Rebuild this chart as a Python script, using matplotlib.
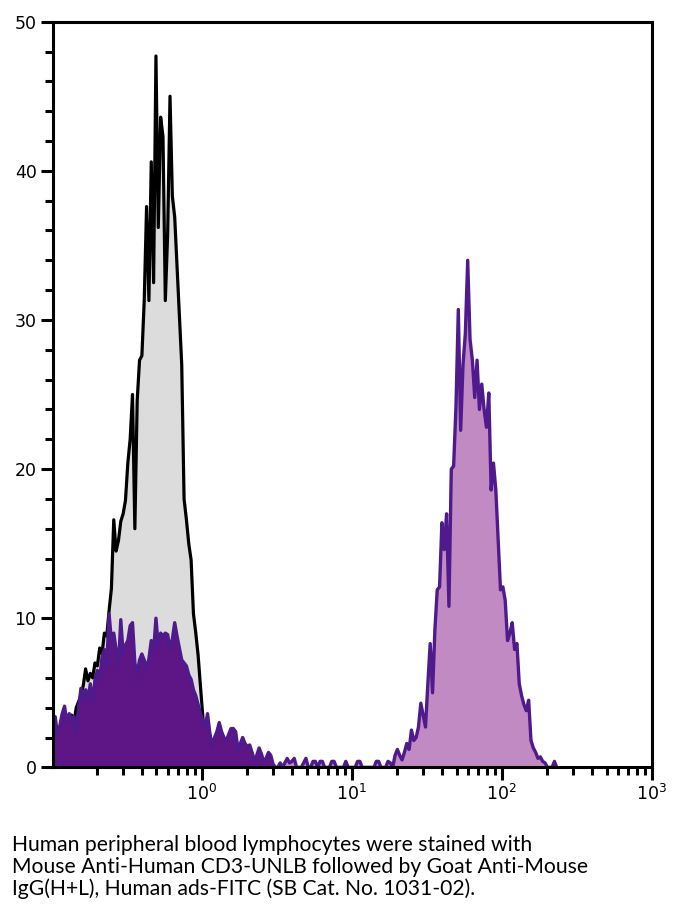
import matplotlib
matplotlib.use('Agg')
import matplotlib.pyplot as plt
import numpy as np
from matplotlib.ticker import LogLocator, MultipleLocator

# channel counts, 64 channels per decade starting at 10^-1
CHANNELS_PER_DECADE = 64

# unstained / control histogram (grey), channels 0..67
control_counts = [
    1.5, 2.0, 1.8, 2.5, 2.2, 3.0, 2.6, 3.2, 3.5, 3.0,
    4.0, 4.4, 4.8, 5.5, 6.6, 5.8, 6.3, 6.0, 7.0, 6.8,
    8.0, 7.6, 9.0, 8.8, 10.5, 12.0, 16.6, 14.5, 15.2, 16.5,
    17.0, 17.9, 20.4, 22.0, 25.0, 16.0, 24.6, 27.3, 27.6, 31.3,
    37.6, 31.3, 40.6, 32.5, 47.7, 36.2, 43.6, 42.3, 31.3, 35.8,
    45.0, 38.3, 36.9, 33.6, 30.3, 27.0, 18.0, 16.6, 15.0, 13.9,
    10.3, 9.0, 7.5, 5.4, 3.4, 1.6, 0.5, 0.0,
]

# CD3 stained histogram (purple), channels 0..215
cd3_counts = [
    3.0, 3.4, 2.2, 2.8, 3.6, 4.1, 3.0, 3.6, 3.2, 3.4,
    2.3, 4.0, 5.3, 4.5, 5.2, 4.6, 5.6, 4.3, 5.9, 6.5,
    5.9, 7.4, 7.9, 6.8, 10.3, 8.5, 9.0, 7.9, 6.8, 9.9,
    7.6, 8.2, 8.5, 9.5, 9.7, 7.0, 6.3, 7.2, 7.6, 7.2,
    6.6, 7.3, 8.5, 7.8, 10.0, 8.1, 9.0, 8.8, 9.0, 8.9,
    7.9, 8.6, 9.7, 8.8, 8.0, 7.2, 7.0, 6.8, 6.2, 5.9,
    5.2, 4.8, 4.2, 3.6, 3.1, 2.7, 3.6, 2.3, 1.4, 2.0,
    2.4, 3.0, 2.4, 2.0, 1.8, 2.2, 2.6, 2.6, 2.4, 1.2,
    1.6, 2.0, 1.6, 1.4, 1.5, 1.0, 0.5, 0.8, 1.3, 0.9,
    0.4, 0.6, 1.0, 0.8, 0.2, 0.0, 0.0, 0.3, 0.0, 0.3,
    0.6, 0.3, 0.4, 0.6, 0.0, 0.0, 0.0, 0.3, 0.6, 0.0,
    0.0, 0.4, 0.4, 0.0, 0.4, 0.4, 0.0, 0.0, 0.0, 0.4,
    0.4, 0.0, 0.0, 0.0, 0.0, 0.4, 0.0, 0.0, 0.0, 0.0,
    0.4, 0.4, 0.0, 0.0, 0.0, 0.0, 0.0, 0.0, 0.4, 0.4,
    0.0, 0.0, 0.0, 0.4, 0.3, 0.0, 0.8, 1.2, 0.8, 0.5,
    1.0, 1.6, 1.2, 2.5, 1.8, 2.0, 2.7, 4.3, 3.5, 2.7,
    5.6, 8.3, 5.0, 9.2, 11.9, 12.1, 16.4, 14.6, 17.0, 10.8,
    20.0, 20.2, 24.2, 30.7, 22.6, 27.0, 29.1, 34.0, 28.7, 27.3,
    24.8, 27.3, 24.0, 25.7, 24.0, 22.8, 25.1, 18.6, 20.4, 18.6,
    15.3, 11.9, 12.1, 11.2, 8.5, 9.0, 9.7, 7.9, 8.3, 5.6,
    4.8, 4.2, 3.8, 4.5, 1.8, 1.3, 1.0, 0.6, 0.7, 0.4,
    0.3, 0.0, 0.0, 0.0, 0.4, 0.0,
]

x_ticks = [1, 10, 100, 1000]
y_ticks = [0, 10, 20, 30, 40, 50]

caption_lines = [
    'Human peripheral blood lymphocytes were stained with',
    'Mouse Anti-Human CD3-UNLB followed by Goat Anti-Mouse',
    'IgG(H+L), Human ads-FITC (SB Cat. No. 1031-02).',
]


def channel_centers(n):
    idx = np.arange(n) + 0.5
    return 10 ** (-1 + idx / CHANNELS_PER_DECADE)


def main():
    fig = plt.figure(figsize=(6.78, 9.11), dpi=100)
    ax = fig.add_axes([0.0786, 0.1577, 0.8826, 0.8185])

    xc = channel_centers(len(control_counts))
    yc = np.array(control_counts)
    xs = channel_centers(len(cd3_counts))
    ys = np.array(cd3_counts)

    # control: grey fill, black outline; stained sample drawn over it
    ax.fill_between(xc, yc, 0, color='#dcdcdc', lw=0, zorder=1)
    ax.plot(xc, yc, color='black', lw=2.3, zorder=2)
    ax.fill_between(xs, ys, 0, where=xs <= 3.2, color='#5e1585', lw=0, zorder=3)
    ax.fill_between(xs, ys, 0, where=xs >= 3.2, color='#c28ac2', lw=0, zorder=3)
    ax.plot(xs, ys, color='#4e1a8c', lw=2.4, zorder=4)

    ax.set_xscale('log')
    ax.set_xlim(10 ** -0.989, 1000)
    ax.set_ylim(0, 50)
    ax.set_xticks(x_ticks)
    ax.xaxis.set_minor_locator(LogLocator(base=10, subs=np.arange(2, 10)))
    ax.set_yticks(y_ticks)
    ax.yaxis.set_minor_locator(MultipleLocator(2))

    for s in ax.spines.values():
        s.set_linewidth(2.2)
        s.set_zorder(5)
    ax.tick_params(which='major', direction='out', length=9, width=2.2,
                   labelsize=12.5, pad=3)
    ax.tick_params(which='minor', direction='out', length=5.5, width=2.2)

    y0 = 851
    for k, line in enumerate(caption_lines):
        fig.text(12 / 678, 1 - (y0 + 22 * k) / 911, line, fontsize=15.2,
                 family='Lato', va='baseline', ha='left')

    fig.savefig('out.png', dpi=100)


if __name__ == '__main__':
    main()
